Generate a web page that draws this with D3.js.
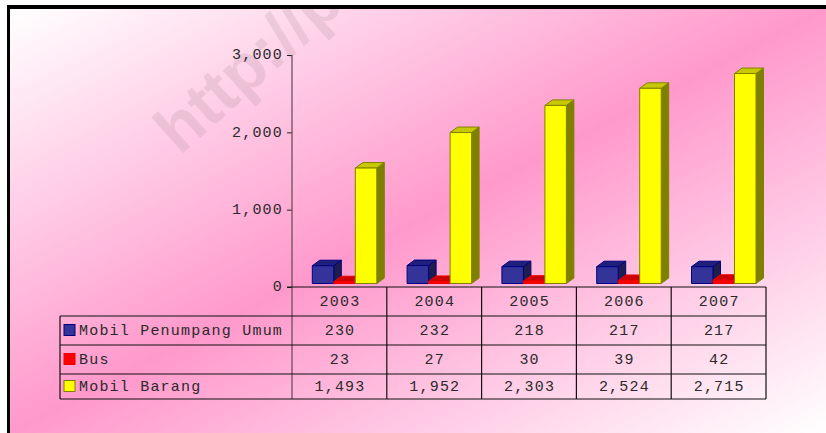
<!DOCTYPE html>
<html>
<head>
<meta charset="utf-8">
<script src="https://cdn.jsdelivr.net/npm/d3@7"></script>
<style>
  body { margin: 0; background: #fff; }
  text { font-family: "Liberation Mono", "Courier New", monospace; font-size: 15px; letter-spacing: 1.2px; fill: #2a2a2a; }
</style>
</head>
<body>
<div id="chart"></div>
<script>
var width = 826
var height = 433

var years = ["2003", "2004", "2005", "2006", "2007"]
var seriesNames = ["Mobil Penumpang Umum", "Bus", "Mobil Barang"]
var mobilPenumpang = [230, 232, 218, 217, 217]
var bus = [23, 27, 30, 39, 42]
var mobilBarang = [1493, 1952, 2303, 2524, 2715]
var yTicks = [0, 1000, 2000, 3000]

var seriesValues = [mobilPenumpang, bus, mobilBarang]
var faceColors = [
  { front: "#333399", top: "#20207a", side: "#1e1e4e", stroke: "#000080" },
  { front: "#ff0000", top: "#cc0000", side: "#990000", stroke: "#ee0000" },
  { front: "#ffff00", top: "#c8c800", side: "#808000", stroke: "#808000" }
]

var fmt = d3.format(",")

var svg = d3.select("#chart")
  .append("svg")
    .attr("width", width)
    .attr("height", height)

var defs = svg.append("defs")
var grad = defs.append("linearGradient")
  .attr("id", "bg")
  .attr("x1", 0).attr("y1", 0).attr("x2", 1).attr("y2", 1)
grad.append("stop").attr("offset", 0).attr("stop-color", "#ffffff")
grad.append("stop").attr("offset", 0.5).attr("stop-color", "#ff99cc")
grad.append("stop").attr("offset", 1).attr("stop-color", "#ffffff")

defs.append("clipPath").attr("id", "area")
  .append("rect").attr("x", 10).attr("y", 9).attr("width", width - 10).attr("height", height - 9)

// frame
svg.append("rect").attr("x", 7).attr("y", 5).attr("width", width - 7).attr("height", height - 5).attr("fill", "#000")
svg.append("rect").attr("x", 10).attr("y", 9).attr("width", width - 10).attr("height", height - 9).attr("fill", "url(#bg)")

// watermark, cut by the top edge as in the source
svg.append("g").attr("clip-path", "url(#area)")
  .append("text")
    .attr("transform", "translate(180,156) rotate(-42)")
    .style("font-family", "Liberation Sans, Arial, sans-serif")
    .style("font-weight", "bold")
    .style("font-size", "66px")
    .style("letter-spacing", "0px")
    .style("fill", "rgba(175,145,160,0.24)")
    .text("http://p")

var x = d3.scaleBand()
  .domain(years)
  .range([292, 766])

var y = d3.scaleLinear()
  .domain([0, 3000])
  .range([287, 55])

var inner = d3.scaleBand()
  .domain(d3.range(seriesNames.length))
  .range([20.3, 20.3 + 64.5])

var lift = 3.5, dx = 7.5, dy = -5.5

// y axis
var yAxis = svg.append("g")
  .attr("transform", "translate(292,0)")
  .call(d3.axisLeft(y).tickValues(yTicks).tickSize(5).tickSizeOuter(0).tickPadding(4).tickFormat(fmt))
yAxis.select(".domain").remove()
yAxis.selectAll(".tick line").attr("stroke", "#222")
yAxis.selectAll(".tick text")
  .attr("dy", "0.25em")
  .style("font-family", "Liberation Mono, monospace")
  .style("font-size", "15px")
  .attr("fill", "#2a2a2a")

svg.append("line")
  .attr("x1", 292).attr("x2", 292).attr("y1", y(3000)).attr("y2", 399)
  .attr("stroke", "#5a4a52").attr("stroke-width", 1.2)

// bars
var bars = svg.append("g")
years.forEach(function(yr, j) {
  seriesValues.forEach(function(vals, i) {
    var c = faceColors[i]
    var x0 = x(yr) + inner(i)
    var w = inner.bandwidth()
    var base = y(0) - lift
    var top = y(vals[j]) - lift
    var g = bars.append("g").attr("stroke", c.stroke).attr("stroke-width", 1).attr("stroke-linejoin", "round")
    g.append("polygon")
      .attr("points", [[x0 + w, top], [x0 + w + dx, top + dy], [x0 + w + dx, base + dy], [x0 + w, base]].join(" "))
      .attr("fill", c.side)
    g.append("polygon")
      .attr("points", [[x0, top], [x0 + dx, top + dy], [x0 + w + dx, top + dy], [x0 + w, top]].join(" "))
      .attr("fill", c.top)
    g.append("rect")
      .attr("x", x0).attr("y", top).attr("width", w).attr("height", base - top)
      .attr("fill", c.front)
  })
})

// data table
var rowEdges = [287, 316, 345, 374, 399]
var tbl = svg.append("g").attr("stroke", "#111").attr("stroke-width", 1.2)
tbl.append("line").attr("x1", 287).attr("x2", 766).attr("y1", rowEdges[0]).attr("y2", rowEdges[0])
rowEdges.slice(1).forEach(function(ry) {
  tbl.append("line").attr("x1", 60).attr("x2", 766).attr("y1", ry).attr("y2", ry)
})
tbl.append("line").attr("x1", 60).attr("x2", 60).attr("y1", rowEdges[1]).attr("y2", rowEdges[4])
years.forEach(function(yr) {
  tbl.append("line").attr("x1", x(yr) + x.bandwidth()).attr("x2", x(yr) + x.bandwidth())
    .attr("y1", rowEdges[0]).attr("y2", rowEdges[4])
})

function baseline(r) { return (rowEdges[r] + rowEdges[r + 1]) / 2 + 4 }

svg.append("g").selectAll("text")
  .data(years)
  .enter().append("text")
    .attr("x", function(d) { return x(d) + x.bandwidth() / 2 + 0.6 })
    .attr("y", baseline(0))
    .attr("text-anchor", "middle")
    .text(function(d) { return d })

seriesNames.forEach(function(name, i) {
  var c = faceColors[i]
  var by = baseline(i + 1)
  svg.append("rect")
    .attr("x", 64).attr("y", by - 10).attr("width", 11).attr("height", 11)
    .attr("fill", c.front).attr("stroke", c.stroke).attr("stroke-width", 1)
  svg.append("text")
    .attr("x", 79).attr("y", by)
    .text(name)
  svg.append("g").selectAll("text")
    .data(seriesValues[i])
    .enter().append("text")
      .attr("x", function(d, j) { return x(years[j]) + x.bandwidth() / 2 + 0.6 })
      .attr("y", by)
      .attr("text-anchor", "middle")
      .text(function(d) { return fmt(d) })
})
</script>
</body>
</html>
